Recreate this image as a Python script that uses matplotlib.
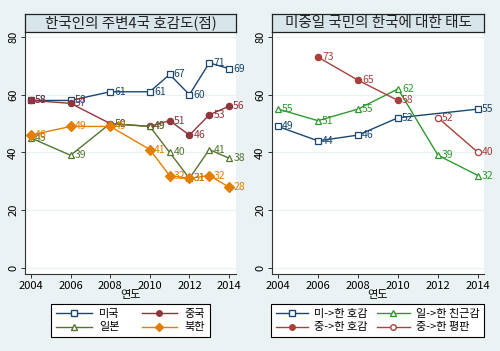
import matplotlib
matplotlib.use("Agg")
import matplotlib.pyplot as plt
from matplotlib.lines import Line2D

plt.rcParams['font.family'] = ['Noto Sans CJK KR', 'DejaVu Sans']

# ---- Left panel data ----
years_l = [2004, 2006, 2008, 2010, 2011, 2012, 2013, 2014]
us_l = [58, 58, 61, 61, 67, 60, 71, 69]
cn_l = [58, 57, 50, 49, 51, 46, 53, 56]
jp_l = [45, 39, 50, 49, 40, 31, 41, 38]
nk_l = [46, 49, 49, 41, 32, 31, 32, 28]
names_l = ['미국', '중국', '일본', '북한']
title_l = '한국인의 주변4국 호감도(점)'

# ---- Right panel data ----
us_r_years = [2004, 2006, 2008, 2010, 2014]
us_r = [49, 44, 46, 52, 55]
jp_r_years = [2004, 2006, 2008, 2010, 2012, 2014]
jp_r = [55, 51, 55, 62, 39, 32]
cnf_years = [2006, 2008, 2010]
cnf = [73, 65, 58]
cnr_years = [2012, 2014]
cnr = [52, 40]
names_r = ['미->한 호감', '일->한 친근감', '중->한 호감', '중->한 평판']
title_r = '미중일 국민의 한국에 대한 태도'

xticks = [2004, 2006, 2008, 2010, 2012, 2014]
yticks = [0, 20, 40, 60, 80]
xlabel = '연도'

BG = '#eaf2f3'
NAVY = '#1a476f'
MAROON = '#90353b'
FOREST = '#55752f'
ORANGE = '#e37e00'
GREEN = '#2e9a2e'
RED = '#a8403c'

W, H = 500, 351
fig = plt.figure(figsize=(W / 100, H / 100), dpi=100, facecolor=BG)


def fr(x0, y0, x1, y1):
    return [x0 / W, 1 - y1 / H, (x1 - x0) / W, (y1 - y0) / H]


def setup(ax, xlim):
    ax.set_facecolor('white')
    ax.set_xlim(*xlim)
    ax.set_ylim(-2.1, 81.7)
    ax.set_xticks(xticks)
    ax.set_yticks(yticks)
    for s in ['top', 'right']:
        ax.spines[s].set_visible(False)
    for s in ['left', 'bottom']:
        ax.spines[s].set_color('#333333')
        ax.spines[s].set_linewidth(0.8)
    ax.tick_params(axis='both', labelsize=8, length=3, width=0.7, pad=2, colors='#333333',
                   labelcolor='black')
    for lab in ax.get_yticklabels():
        lab.set_rotation(90)
        lab.set_va('center')
    ax.yaxis.grid(True, color=BG, linewidth=0.8)
    ax.set_axisbelow(True)
    ax.set_xlabel(xlabel, fontsize=8, labelpad=-1)


def series(ax, x, y, color, marker, filled, ms, labels=True):
    ax.plot(x, y, color=color, lw=1.0, marker=marker, ms=ms,
            mfc=color if filled else 'white', mec=color, mew=0.9, zorder=3)
    if labels:
        for xi, yi in zip(x, y):
            ax.annotate(str(yi), (xi, yi), xytext=(3, 0), textcoords='offset points',
                        fontsize=7.5, color=color, va='center', ha='left', zorder=4)


def titlebox(box, text):
    tb = fig.add_axes(box)
    tb.set_facecolor('#d8e5ea')
    tb.set_xticks([])
    tb.set_yticks([])
    for s in tb.spines.values():
        s.set_color('#222222')
        s.set_linewidth(0.9)
    tb.text(0.5, 0.5, text, ha='center', va='center', fontsize=10.5, color='#222222',
            transform=tb.transAxes)


# Left panel
axl = fig.add_axes(fr(25, 32, 236, 274))
setup(axl, (2003.7, 2014.35))
series(axl, years_l, us_l, NAVY, 's', False, 4.5)
series(axl, years_l, cn_l, MAROON, 'o', True, 4.5)
series(axl, years_l, jp_l, FOREST, '^', False, 4.5)
series(axl, years_l, nk_l, ORANGE, 'D', True, 5)
titlebox(fr(25, 14, 236, 32), title_l)

hl = {
    names_l[0]: Line2D([], [], color=NAVY, lw=1, marker='s', mfc='white', mec=NAVY, ms=4),
    names_l[1]: Line2D([], [], color=MAROON, lw=1, marker='o', mfc=MAROON, mec=MAROON, ms=4),
    names_l[2]: Line2D([], [], color=FOREST, lw=1, marker='^', mfc='white', mec=FOREST, ms=4),
    names_l[3]: Line2D([], [], color=ORANGE, lw=1, marker='D', mfc=ORANGE, mec=ORANGE, ms=4),
}
order_l = [names_l[0], names_l[2], names_l[1], names_l[3]]
leg = fig.legend([hl[n] for n in order_l], order_l, ncol=2, loc='center',
                 bbox_to_anchor=(130.5 / W, 1 - 320.5 / H),
                 fontsize=8, handlelength=3.2, columnspacing=2.0, handletextpad=0.65,
                 labelspacing=0.35, borderpad=0.45, fancybox=False, framealpha=1,
                 edgecolor='black')
leg.get_frame().set_linewidth(0.8)

# Right panel
axr = fig.add_axes(fr(272, 32, 484, 274))
setup(axr, (2003.7, 2014.3))
series(axr, us_r_years, us_r, NAVY, 's', False, 4.5)
series(axr, jp_r_years, jp_r, GREEN, '^', False, 4.5)
series(axr, cnf_years, cnf, RED, 'o', True, 4.5)
series(axr, cnr_years, cnr, RED, 'o', False, 4.5)
titlebox(fr(272, 14, 484, 32), title_r)

hr = {
    names_r[0]: Line2D([], [], color=NAVY, lw=1, marker='s', mfc='white', mec=NAVY, ms=4),
    names_r[1]: Line2D([], [], color=GREEN, lw=1, marker='^', mfc='white', mec=GREEN, ms=4),
    names_r[2]: Line2D([], [], color=RED, lw=1, marker='o', mfc=RED, mec=RED, ms=4),
    names_r[3]: Line2D([], [], color=RED, lw=1, marker='o', mfc='white', mec=RED, ms=4),
}
order_r = [names_r[0], names_r[2], names_r[1], names_r[3]]
leg2 = fig.legend([hr[n] for n in order_r], order_r, ncol=2, loc='center',
                  bbox_to_anchor=(377.5 / W, 1 - 320.5 / H),
                  fontsize=8, handlelength=2.9, columnspacing=0.9, handletextpad=0.55,
                  labelspacing=0.35, borderpad=0.45, fancybox=False, framealpha=1,
                  edgecolor='black')
leg2.get_frame().set_linewidth(0.8)

fig.savefig('out.png', dpi=100, facecolor=BG)
